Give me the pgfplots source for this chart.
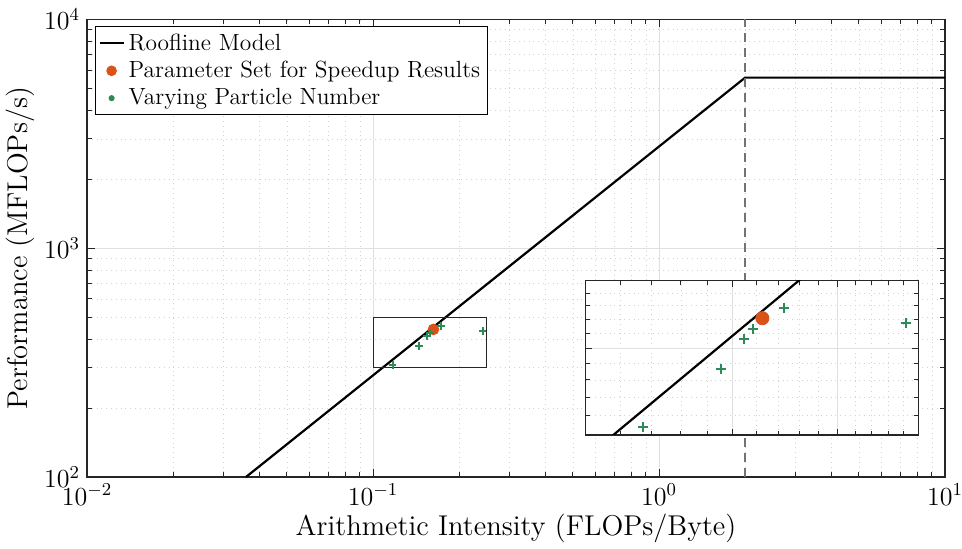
\RequirePackage{fix-cm}
\documentclass[border=0pt]{standalone}
\usepackage{fontspec}
\usepackage{pgfplots}
\pgfplotsset{compat=1.18}

\definecolor{mlorange}{RGB}{217,83,25}
\definecolor{mlgreen}{RGB}{46,139,87}
\definecolor{axgray}{RGB}{38,38,38}

% roofline: bandwidth ~2780 MB/s, peak ~5560 MFLOPs/s, ridge at 2 FLOPs/Byte
\pgfplotstableread{
x y
0.03597 100
2 5560
10 5560
}\roof
\pgfplotstableread{
x y
0.1627 441.6
}\speedup
\pgfplotstableread{
x y
0.1170 308.5
0.1450 373
0.1547 412
0.1586 426
0.1727 457
0.2415 434
}\particles

\begin{document}
\begin{tikzpicture}
\begin{axis}[
    name=main,
    scale only axis,
    width=429pt, height=228.85pt,
    xmode=log, ymode=log,
    xmin=0.01, xmax=10, ymin=100, ymax=10000,
    grid=both,
    major grid style={gray!25, line width=0.4pt},
    minor grid style={gray!35, dotted, line width=0.4pt},
    axis line style={axgray, line width=0.6pt},
    every tick/.style={axgray, line width=0.5pt},
    major tick length=4pt, minor tick length=2.4pt,
    tick label style={font=\fontsize{13}{15}\selectfont},
    label style={font=\fontsize{14.3}{17}\selectfont},
    xlabel={Arithmetic Intensity (FLOPs/Byte)},
    ylabel={Performance (MFLOPs/s)},
    xlabel shift=-2.5pt, ylabel shift=-2pt,
    legend cell align=left,
    legend style={at={(0,1)}, anchor=north west, xshift=4pt, yshift=-3.4pt,
        draw=black, line width=0.5pt, inner sep=1.5pt, row sep=0pt,
        font=\fontsize{11.7}{14}\selectfont},
]
\addplot[black, line width=1.1pt,
    legend image code/.code={\draw[black, line width=1.1pt] (0pt,0pt) -- (12pt,0pt);}]
    table {\roof};
\addlegendentry{Roofline Model}
\addplot[only marks, mark=*, mark size=2.7pt, color=mlorange,
    legend image code/.code={\fill[mlorange] (6pt,0pt) circle (2.4pt);}]
    table {\speedup};
\addlegendentry{Parameter Set for Speedup Results}
\addplot[only marks, mark=+, mark size=1.9pt, color=mlgreen, line width=1pt,
    legend image code/.code={\fill[mlgreen] (6pt,0pt) circle (1pt);}]
    table {\particles};
\addlegendentry{Varying Particle Number}
\addplot[forget plot, black!55, line width=1pt, dash pattern=on 4.5pt off 3pt]
    coordinates {(2,100) (2,10000)};
\addplot[forget plot, black!85, line width=0.5pt]
    coordinates {(0.1,300) (0.25,300) (0.25,500) (0.1,500) (0.1,300)};
\end{axis}

\begin{axis}[
    at={(249.35pt,21pt)}, anchor=south west,
    scale only axis,
    width=166.3pt, height=77.15pt,
    xmode=log, ymode=log,
    xmin=0.1, xmax=0.25, ymin=300, ymax=500,
    xtick={0.15,0.2}, ytick={400},
    minor xtick={0.11,0.12,0.13,0.14,0.16,0.17,0.18,0.19,0.21,0.22,0.23,0.24},
    minor ytick={320,340,360,380,420,440,460,480},
    xticklabels={}, yticklabels={},
    grid=both,
    major grid style={gray!25, line width=0.4pt},
    minor grid style={gray!35, dotted, line width=0.4pt},
    axis background/.style={fill=white},
    axis line style={axgray, line width=0.6pt},
    every tick/.style={axgray, line width=0.5pt},
    major tick length=3pt, minor tick length=2pt,
]
\addplot[black, line width=1.1pt] table {\roof};
\addplot[only marks, mark=*, mark size=3.3pt, color=mlorange] table {\speedup};
\addplot[only marks, mark=+, mark size=2.5pt, color=mlgreen, line width=1pt] table {\particles};
\end{axis}
\pgfresetboundingbox
\useasboundingbox (-43.5pt,-35.5pt) rectangle (437.5pt,238.5pt);
\end{tikzpicture}
\end{document}
